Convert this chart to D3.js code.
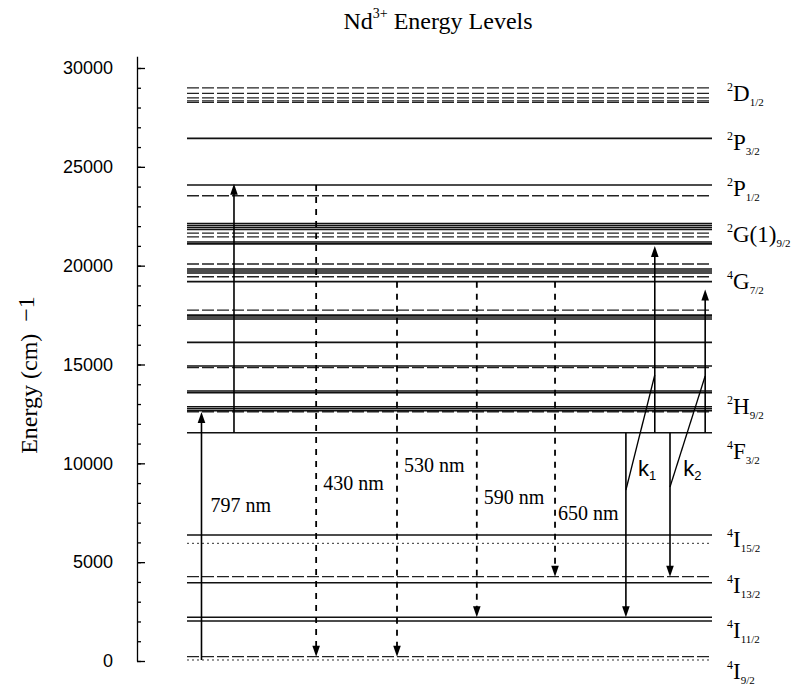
<!DOCTYPE html>
<html><head><meta charset="utf-8">
<script src="https://cdn.jsdelivr.net/npm/d3@7"></script>
<style>body{margin:0;background:#fff}</style>
</head><body>
<script>
// ---------- data ----------
const solidLevels = [26439, 24077, 22130, 22030, 21930, 21830, 21200, 21100, 19830, 19730, 19630, 19190,
  17500, 17400, 17300, 16120, 14922, 13657, 13571, 12863, 12760, 12660, 11548, 6373, 3961, 2210, 2023];
const dashedLevels = [28999, 28716, 28493, 28341, 28260, 23536, 21650, 21460, 20083, 19440, 17754, 14840, 12610, 4264, 218];
const dottedLevels = [5953, 51];

const termSup = ["2","2","2","2","4","2","4","4","4","4","4"];
const termLetter = ["D","P","P","G(1)","G","H","F","I","I","I","I"];
const termSub = ["1/2","3/2","1/2","9/2","7/2","9/2","3/2","15/2","13/2","11/2","9/2"];
const termLabelEnergy = [28326, 25847, 23520, 21194, 18817, 12494, 10218, 5766, 3440, 1163, -910];

const transitionColumn = [2.76, 8.95, 24.6, 40, 55.2, 70.1, 83.6, 89.1, 92, 98.7];
const transitionFrom = [51, 11548, 24077, 19190, 19190, 19190, 11548, 11548, 11548, 11548];
const transitionTo = [12600, 24150, 218, 218, 2210, 4264, 2210, 21000, 4264, 18800];
const transitionKind = ["pump","pump","emission","emission","emission","emission","transfer","transfer","transfer","transfer"];
const transitionLabel = ["797 nm","","430 nm","530 nm","590 nm","650 nm","","","",""];
const transitionLabelEnergy = [7537, 0, 8650, 9560, 7941, 7132, 0, 0, 0, 0];

const couplingFromColumn = [83.6, 92];
const couplingFromEnergy = [8650, 8801];
const couplingToColumn = [89.1, 98.7];
const couplingToEnergy = [14467, 14416];
const couplingName = ["k", "k"];
const couplingIndex = ["1", "2"];
const couplingLabelColumn = [85.9, 94.5];
const couplingLabelEnergy = [9358, 9358];

const majorTicks = [0, 5000, 10000, 15000, 20000, 25000, 30000];
const minorTicks = d3.range(0, 30001, 1000);

// ---------- drawing ----------
const W = 795, H = 685;
const svg = d3.select("body").append("svg").attr("width", W).attr("height", H)
  .style("font-family", "'Liberation Serif','Times New Roman',serif");

const y = d3.scaleLinear().domain([0, 30600]).range([661, 661 - 30600 * 0.019767]);
const x = d3.scaleLinear().domain([0, 100]).range([187, 712]);

// title
const title = svg.append("text").attr("x", 438).attr("y", 29).attr("text-anchor", "middle")
  .attr("font-size", 24);
title.append("tspan").text("Nd");
title.append("tspan").attr("font-size", 14).attr("dy", -11).text("3+");
title.append("tspan").attr("dy", 11).text(" Energy Levels");

// axis
const axisG = svg.append("g").attr("transform", "translate(137,0)");
axisG.append("g").call(d3.axisLeft(y).tickValues(minorTicks).tickSize(-4).tickSizeOuter(0).tickFormat(""))
  .call(g => g.selectAll("line,path").attr("stroke", "#000").attr("stroke-width", 1.3));
axisG.append("g").call(d3.axisLeft(y).tickValues(majorTicks).tickSize(-8).tickSizeOuter(0).tickPadding(24).tickFormat(d3.format("d")))
  .call(g => g.select(".domain").remove())
  .call(g => g.selectAll("line").attr("stroke", "#000").attr("stroke-width", 1.3))
  .call(g => g.selectAll("text").attr("font-family", "'Liberation Sans',Arial,sans-serif").attr("font-size", 18).attr("fill", "#000"));

const ylab = svg.append("text").attr("transform", "translate(37,375) rotate(-90)")
  .attr("text-anchor", "middle").attr("font-size", 24);
ylab.append("tspan").text("Energy (cm)\u2002");
ylab.append("tspan").attr("dy", -3).text("\u22121");

// levels
const lev = svg.append("g");
lev.selectAll(".s").data(solidLevels).join("line").attr("class", "s")
  .attr("x1", x(0)).attr("x2", x(100)).attr("y1", d => y(d)).attr("y2", d => y(d))
  .attr("stroke", "#111").attr("stroke-width", 1.6);
lev.selectAll(".d").data(dashedLevels).join("line").attr("class", "d")
  .attr("x1", x(0)).attr("x2", x(100)).attr("y1", d => y(d)).attr("y2", d => y(d))
  .attr("stroke", "#222").attr("stroke-width", 1.3).attr("stroke-dasharray", "12,3");
lev.selectAll(".o").data(dottedLevels).join("line").attr("class", "o")
  .attr("x1", x(0)).attr("x2", x(100)).attr("y1", d => y(d)).attr("y2", d => y(d))
  .attr("stroke", "#333").attr("stroke-width", 1).attr("stroke-dasharray", "2,3");

// term labels
const tl = svg.append("g");
termLetter.forEach((L, i) => {
  const t = tl.append("text").attr("x", 727).attr("y", y(termLabelEnergy[i])).attr("font-size", 23);
  t.append("tspan").attr("font-size", 12).attr("dy", -10).text(termSup[i]);
  t.append("tspan").attr("dy", 10).text(L);
  t.append("tspan").attr("font-size", 11).attr("dy", 5).text(termSub[i]);
});

// transitions
const tr = svg.append("g");
transitionColumn.forEach((c, i) => {
  const xx = x(c), y0 = y(transitionFrom[i]), y1 = y(transitionTo[i]);
  const dir = y1 < y0 ? 1 : -1; // 1 = upward
  const headLen = 11, headW = 3.8;
  const kind = transitionKind[i];
  tr.append("line").attr("x1", xx).attr("x2", xx).attr("y1", y0).attr("y2", y1 + dir * headLen * 0.6)
    .attr("stroke", "#000").attr("stroke-width", kind === "emission" ? 1.8 : 1.6)
    .attr("stroke-dasharray", kind === "emission" ? "6,6" : null);
  tr.append("path").attr("d", `M${xx},${y1} L${xx - headW},${y1 + dir * headLen} L${xx + headW},${y1 + dir * headLen} Z`)
    .attr("fill", "#000");
  if (transitionLabel[i]) {
    tr.append("text").attr("x", xx + (i === 0 ? 9 : i === 5 ? 3 : 7)).attr("y", y(transitionLabelEnergy[i]))
      .attr("font-size", 20).text(transitionLabel[i]);
  }
});

// coupling lines
couplingFromColumn.forEach((c, i) => {
  svg.append("line").attr("x1", x(c)).attr("y1", y(couplingFromEnergy[i]))
    .attr("x2", x(couplingToColumn[i])).attr("y2", y(couplingToEnergy[i]))
    .attr("stroke", "#000").attr("stroke-width", 1.3);
  const t = svg.append("text").attr("x", x(couplingLabelColumn[i])).attr("y", y(couplingLabelEnergy[i]))
    .attr("font-family", "'Liberation Sans',Arial,sans-serif").attr("font-size", 22);
  t.append("tspan").text(couplingName[i]);
  t.append("tspan").attr("font-size", 13).attr("dy", 4).text(couplingIndex[i]);
});
</script>
</body></html>
